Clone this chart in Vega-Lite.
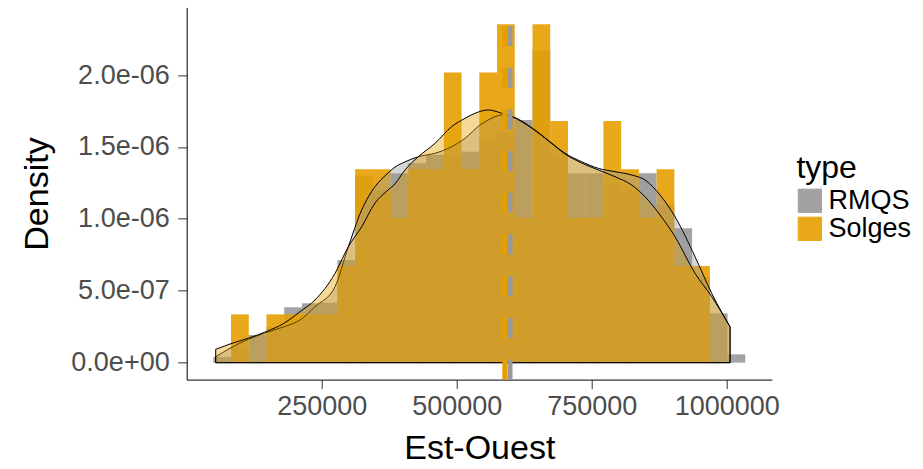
{
  "$schema": "https://vega.github.io/schema/vega-lite/v6.json",
  "width": 585.2,
  "height": 372.2,
  "autosize": {"type": "none"},
  "padding": {"left": 186.7, "top": 7.4, "right": 151.1, "bottom": 89.4},
  "background": "white",
  "config": {
    "view": {"stroke": null},
    "font": "Liberation Sans",
    "axis": {"grid": false, "domainColor": "black", "domainWidth": 1, "tickColor": "#333333", "tickWidth": 1, "tickSize": 9, "labelFont": "Liberation Sans", "titleFont": "Liberation Sans", "labelFontSize": 27, "labelColor": "#4D4D4D", "titleFontSize": 34, "titleColor": "black", "titleFontWeight": "normal", "labelOverlap": false, "labelFlush": false}
  },
  "datasets": {
    "bins": [
      {"type": "RMQS", "x0": 49257, "x1": 82095, "density": 4.0e-8},
      {"type": "RMQS", "x0": 82095, "x1": 114933, "density": 1.0e-7},
      {"type": "RMQS", "x0": 114933, "x1": 147771, "density": 1.93e-7},
      {"type": "RMQS", "x0": 147771, "x1": 180609, "density": 2.5e-7},
      {"type": "RMQS", "x0": 180609, "x1": 213447, "density": 3.85e-7},
      {"type": "RMQS", "x0": 213447, "x1": 246285, "density": 4.13e-7},
      {"type": "RMQS", "x0": 246285, "x1": 279123, "density": 4.17e-7},
      {"type": "RMQS", "x0": 279123, "x1": 311961, "density": 7.14e-7},
      {"type": "RMQS", "x0": 311961, "x1": 344799, "density": 1.30e-6},
      {"type": "RMQS", "x0": 344799, "x1": 377637, "density": 1.20e-6},
      {"type": "RMQS", "x0": 377637, "x1": 410475, "density": 1.317e-6},
      {"type": "RMQS", "x0": 410475, "x1": 443313, "density": 1.386e-6},
      {"type": "RMQS", "x0": 443313, "x1": 476151, "density": 1.444e-6},
      {"type": "RMQS", "x0": 476151, "x1": 508989, "density": 1.45e-6},
      {"type": "RMQS", "x0": 508989, "x1": 541827, "density": 1.467e-6},
      {"type": "RMQS", "x0": 541827, "x1": 574665, "density": 1.55e-6},
      {"type": "RMQS", "x0": 574665, "x1": 607503, "density": 1.60e-6},
      {"type": "RMQS", "x0": 607503, "x1": 640341, "density": 1.687e-6},
      {"type": "RMQS", "x0": 640341, "x1": 673179, "density": 2.17e-6},
      {"type": "RMQS", "x0": 673179, "x1": 706017, "density": 1.45e-6},
      {"type": "RMQS", "x0": 706017, "x1": 738855, "density": 1.317e-6},
      {"type": "RMQS", "x0": 738855, "x1": 771693, "density": 1.317e-6},
      {"type": "RMQS", "x0": 771693, "x1": 804531, "density": 1.25e-6},
      {"type": "RMQS", "x0": 804531, "x1": 837369, "density": 1.20e-6},
      {"type": "RMQS", "x0": 837369, "x1": 870207, "density": 1.317e-6},
      {"type": "RMQS", "x0": 870207, "x1": 903045, "density": 1.10e-6},
      {"type": "RMQS", "x0": 903045, "x1": 935883, "density": 9.34e-7},
      {"type": "RMQS", "x0": 935883, "x1": 968721, "density": 6.0e-7},
      {"type": "RMQS", "x0": 968721, "x1": 1001559, "density": 3.43e-7},
      {"type": "RMQS", "x0": 1001559, "x1": 1034397, "density": 5.8e-8},
      {"type": "Solges", "x0": 82095, "x1": 114933, "density": 3.361e-7},
      {"type": "Solges", "x0": 147771, "x1": 180609, "density": 3.361e-7},
      {"type": "Solges", "x0": 180609, "x1": 213447, "density": 3.361e-7},
      {"type": "Solges", "x0": 213447, "x1": 246285, "density": 3.361e-7},
      {"type": "Solges", "x0": 246285, "x1": 279123, "density": 3.361e-7},
      {"type": "Solges", "x0": 279123, "x1": 311961, "density": 6.722e-7},
      {"type": "Solges", "x0": 311961, "x1": 344799, "density": 1.3444e-6},
      {"type": "Solges", "x0": 344799, "x1": 377637, "density": 1.3444e-6},
      {"type": "Solges", "x0": 377637, "x1": 410475, "density": 1.0083e-6},
      {"type": "Solges", "x0": 410475, "x1": 443313, "density": 1.3444e-6},
      {"type": "Solges", "x0": 443313, "x1": 476151, "density": 1.3444e-6},
      {"type": "Solges", "x0": 476151, "x1": 508989, "density": 2.0166e-6},
      {"type": "Solges", "x0": 508989, "x1": 541827, "density": 1.3444e-6},
      {"type": "Solges", "x0": 541827, "x1": 574665, "density": 2.0166e-6},
      {"type": "Solges", "x0": 574665, "x1": 607503, "density": 2.3527e-6},
      {"type": "Solges", "x0": 607503, "x1": 640341, "density": 1.0083e-6},
      {"type": "Solges", "x0": 640341, "x1": 673179, "density": 2.3527e-6},
      {"type": "Solges", "x0": 673179, "x1": 706017, "density": 1.6805e-6},
      {"type": "Solges", "x0": 706017, "x1": 738855, "density": 1.0083e-6},
      {"type": "Solges", "x0": 738855, "x1": 771693, "density": 1.0083e-6},
      {"type": "Solges", "x0": 771693, "x1": 804531, "density": 1.6805e-6},
      {"type": "Solges", "x0": 804531, "x1": 837369, "density": 1.3444e-6},
      {"type": "Solges", "x0": 837369, "x1": 870207, "density": 1.0083e-6},
      {"type": "Solges", "x0": 870207, "x1": 903045, "density": 1.3444e-6},
      {"type": "Solges", "x0": 903045, "x1": 935883, "density": 6.722e-7},
      {"type": "Solges", "x0": 935883, "x1": 968721, "density": 6.722e-7}
    ],
    "dens": [
      {"type": "RMQS", "x": 53700, "d": 4.17e-8},
      {"type": "RMQS", "x": 80185, "d": 1.0e-7},
      {"type": "RMQS", "x": 114074, "d": 1.63e-7},
      {"type": "RMQS", "x": 146850, "d": 2.085e-7},
      {"type": "RMQS", "x": 180185, "d": 2.5e-7},
      {"type": "RMQS", "x": 209815, "d": 2.97e-7},
      {"type": "RMQS", "x": 237593, "d": 3.89e-7},
      {"type": "RMQS", "x": 274630, "d": 5.28e-7},
      {"type": "RMQS", "x": 299260, "d": 8.06e-7},
      {"type": "RMQS", "x": 324074, "d": 1.062e-6},
      {"type": "RMQS", "x": 348704, "d": 1.224e-6},
      {"type": "RMQS", "x": 370926, "d": 1.312e-6},
      {"type": "RMQS", "x": 385741, "d": 1.360e-6},
      {"type": "RMQS", "x": 404259, "d": 1.396e-6},
      {"type": "RMQS", "x": 428889, "d": 1.432e-6},
      {"type": "RMQS", "x": 459815, "d": 1.456e-6},
      {"type": "RMQS", "x": 490741, "d": 1.502e-6},
      {"type": "RMQS", "x": 515370, "d": 1.560e-6},
      {"type": "RMQS", "x": 543148, "d": 1.652e-6},
      {"type": "RMQS", "x": 561667, "d": 1.694e-6},
      {"type": "RMQS", "x": 583333, "d": 1.722e-6},
      {"type": "RMQS", "x": 603704, "d": 1.710e-6},
      {"type": "RMQS", "x": 640741, "d": 1.629e-6},
      {"type": "RMQS", "x": 672778, "d": 1.536e-6},
      {"type": "RMQS", "x": 700556, "d": 1.456e-6},
      {"type": "RMQS", "x": 731481, "d": 1.397e-6},
      {"type": "RMQS", "x": 762222, "d": 1.351e-6},
      {"type": "RMQS", "x": 793148, "d": 1.328e-6},
      {"type": "RMQS", "x": 824074, "d": 1.305e-6},
      {"type": "RMQS", "x": 848704, "d": 1.270e-6},
      {"type": "RMQS", "x": 876481, "d": 1.166e-6},
      {"type": "RMQS", "x": 904259, "d": 1.015e-6},
      {"type": "RMQS", "x": 941296, "d": 7.37e-7},
      {"type": "RMQS", "x": 972222, "d": 4.82e-7},
      {"type": "RMQS", "x": 1006111, "d": 2.5e-7},
      {"type": "Solges", "x": 53700, "d": 9.3e-8},
      {"type": "Solges", "x": 80185, "d": 1.30e-7},
      {"type": "Solges", "x": 114074, "d": 1.70e-7},
      {"type": "Solges", "x": 146850, "d": 2.155e-7},
      {"type": "Solges", "x": 180185, "d": 2.74e-7},
      {"type": "Solges", "x": 209815, "d": 3.545e-7},
      {"type": "Solges", "x": 237593, "d": 4.36e-7},
      {"type": "Solges", "x": 274630, "d": 6.21e-7},
      {"type": "Solges", "x": 299260, "d": 8.06e-7},
      {"type": "Solges", "x": 324074, "d": 9.45e-7},
      {"type": "Solges", "x": 348704, "d": 1.110e-6},
      {"type": "Solges", "x": 370926, "d": 1.194e-6},
      {"type": "Solges", "x": 385741, "d": 1.243e-6},
      {"type": "Solges", "x": 404259, "d": 1.340e-6},
      {"type": "Solges", "x": 428889, "d": 1.432e-6},
      {"type": "Solges", "x": 459815, "d": 1.525e-6},
      {"type": "Solges", "x": 490741, "d": 1.641e-6},
      {"type": "Solges", "x": 515370, "d": 1.699e-6},
      {"type": "Solges", "x": 533889, "d": 1.734e-6},
      {"type": "Solges", "x": 558519, "d": 1.757e-6},
      {"type": "Solges", "x": 583333, "d": 1.734e-6},
      {"type": "Solges", "x": 603704, "d": 1.708e-6},
      {"type": "Solges", "x": 640741, "d": 1.626e-6},
      {"type": "Solges", "x": 672778, "d": 1.533e-6},
      {"type": "Solges", "x": 700556, "d": 1.451e-6},
      {"type": "Solges", "x": 731481, "d": 1.388e-6},
      {"type": "Solges", "x": 762222, "d": 1.340e-6},
      {"type": "Solges", "x": 793148, "d": 1.293e-6},
      {"type": "Solges", "x": 824074, "d": 1.235e-6},
      {"type": "Solges", "x": 848704, "d": 1.154e-6},
      {"type": "Solges", "x": 876481, "d": 1.027e-6},
      {"type": "Solges", "x": 904259, "d": 8.76e-7},
      {"type": "Solges", "x": 941296, "d": 6.21e-7},
      {"type": "Solges", "x": 972222, "d": 4.59e-7},
      {"type": "Solges", "x": 1006111, "d": 2.48e-7}
    ],
    "means": [
      {"type": "Solges", "mean": 589070},
      {"type": "RMQS", "mean": 598700}
    ]
  },
  "layer": [
    {
      "data": {"name": "bins"},
      "transform": [{"filter": "datum.type === 'RMQS'"}],
      "mark": {"type": "rect", "opacity": 0.9},
      "encoding": {
        "x": {"field": "x0", "type": "quantitative", "scale": {"domain": [0, 1083650], "nice": false, "zero": false},
              "axis": {"values": [250000, 500000, 750000, 1000000], "format": "d", "title": "Est-Ouest", "labelPadding": 5, "titleX": 292.6, "titleY": 78.4, "titleBaseline": "alphabetic", "titleAlign": "center"}},
        "x2": {"field": "x1"},
        "y": {"field": "density", "type": "quantitative", "scale": {"domain": [-1.176e-7, 2.470e-6], "nice": false, "zero": false},
              "axis": {"values": [0, 5e-7, 1e-6, 1.5e-6, 2e-6], "title": "Density", "labelPadding": 8.5,
                       "labelExpr": "datum.value == 0 ? '0.0e+00' : datum.value < 7e-7 ? '5.0e-07' : datum.value < 1.2e-6 ? '1.0e-06' : datum.value < 1.7e-6 ? '1.5e-06' : '2.0e-06'",
                       "titleX": -139, "titleY": 186.1, "titleAngle": -90, "titleBaseline": "alphabetic", "titleAlign": "center"}},
        "y2": {"datum": 0},
        "fill": {"field": "type", "type": "nominal", "scale": {"domain": ["RMQS", "Solges"], "range": ["#999999", "#E69F00"]},
                 "legend": {"title": "type", "orient": "none", "legendX": 609.7, "legendY": 145.9, "padding": 0,
                            "titleFontSize": 32, "titleColor": "black", "titleFontWeight": "normal", "titlePadding": 2,
                            "labelFontSize": 27, "labelColor": "black", "labelOffset": 5,
                            "symbolType": "square", "symbolSize": 543, "symbolStrokeColor": "#333333", "symbolStrokeWidth": 1,
                            "symbolOpacity": 0.9, "rowPadding": -7}}
      }
    },
    {
      "data": {"name": "bins"},
      "transform": [{"filter": "datum.type === 'Solges'"}],
      "mark": {"type": "rect", "opacity": 0.9},
      "encoding": {
        "x": {"field": "x0", "type": "quantitative"},
        "x2": {"field": "x1"},
        "y": {"field": "density", "type": "quantitative"},
        "y2": {"datum": 0},
        "fill": {"field": "type", "type": "nominal"}
      }
    },
    {
      "data": {"name": "dens"},
      "transform": [{"filter": "datum.type === 'RMQS'"}],
      "mark": {"type": "area", "fillOpacity": 0.4, "stroke": "black", "strokeWidth": 1, "interpolate": "monotone"},
      "encoding": {
        "x": {"field": "x", "type": "quantitative"},
        "y": {"field": "d", "type": "quantitative", "stack": null},
        "y2": {"datum": 0},
        "fill": {"field": "type", "type": "nominal"}
      }
    },
    {
      "data": {"name": "dens"},
      "transform": [{"filter": "datum.type === 'Solges'"}],
      "mark": {"type": "area", "fillOpacity": 0.4, "stroke": "black", "strokeWidth": 1, "interpolate": "monotone"},
      "encoding": {
        "x": {"field": "x", "type": "quantitative"},
        "y": {"field": "d", "type": "quantitative", "stack": null},
        "y2": {"datum": 0},
        "fill": {"field": "type", "type": "nominal"}
      }
    },
    {
      "data": {"name": "means"},
      "mark": {"type": "rule", "strokeWidth": 5, "strokeDash": [20, 21.7]},
      "encoding": {
        "x": {"field": "mean", "type": "quantitative"},
        "y": {"datum": -1.176e-7},
        "y2": {"datum": 2.470e-6},
        "stroke": {"field": "type", "type": "nominal", "scale": {"domain": ["RMQS", "Solges"], "range": ["#999999", "#E69F00"]}, "legend": null}
      }
    }
  ]
}
